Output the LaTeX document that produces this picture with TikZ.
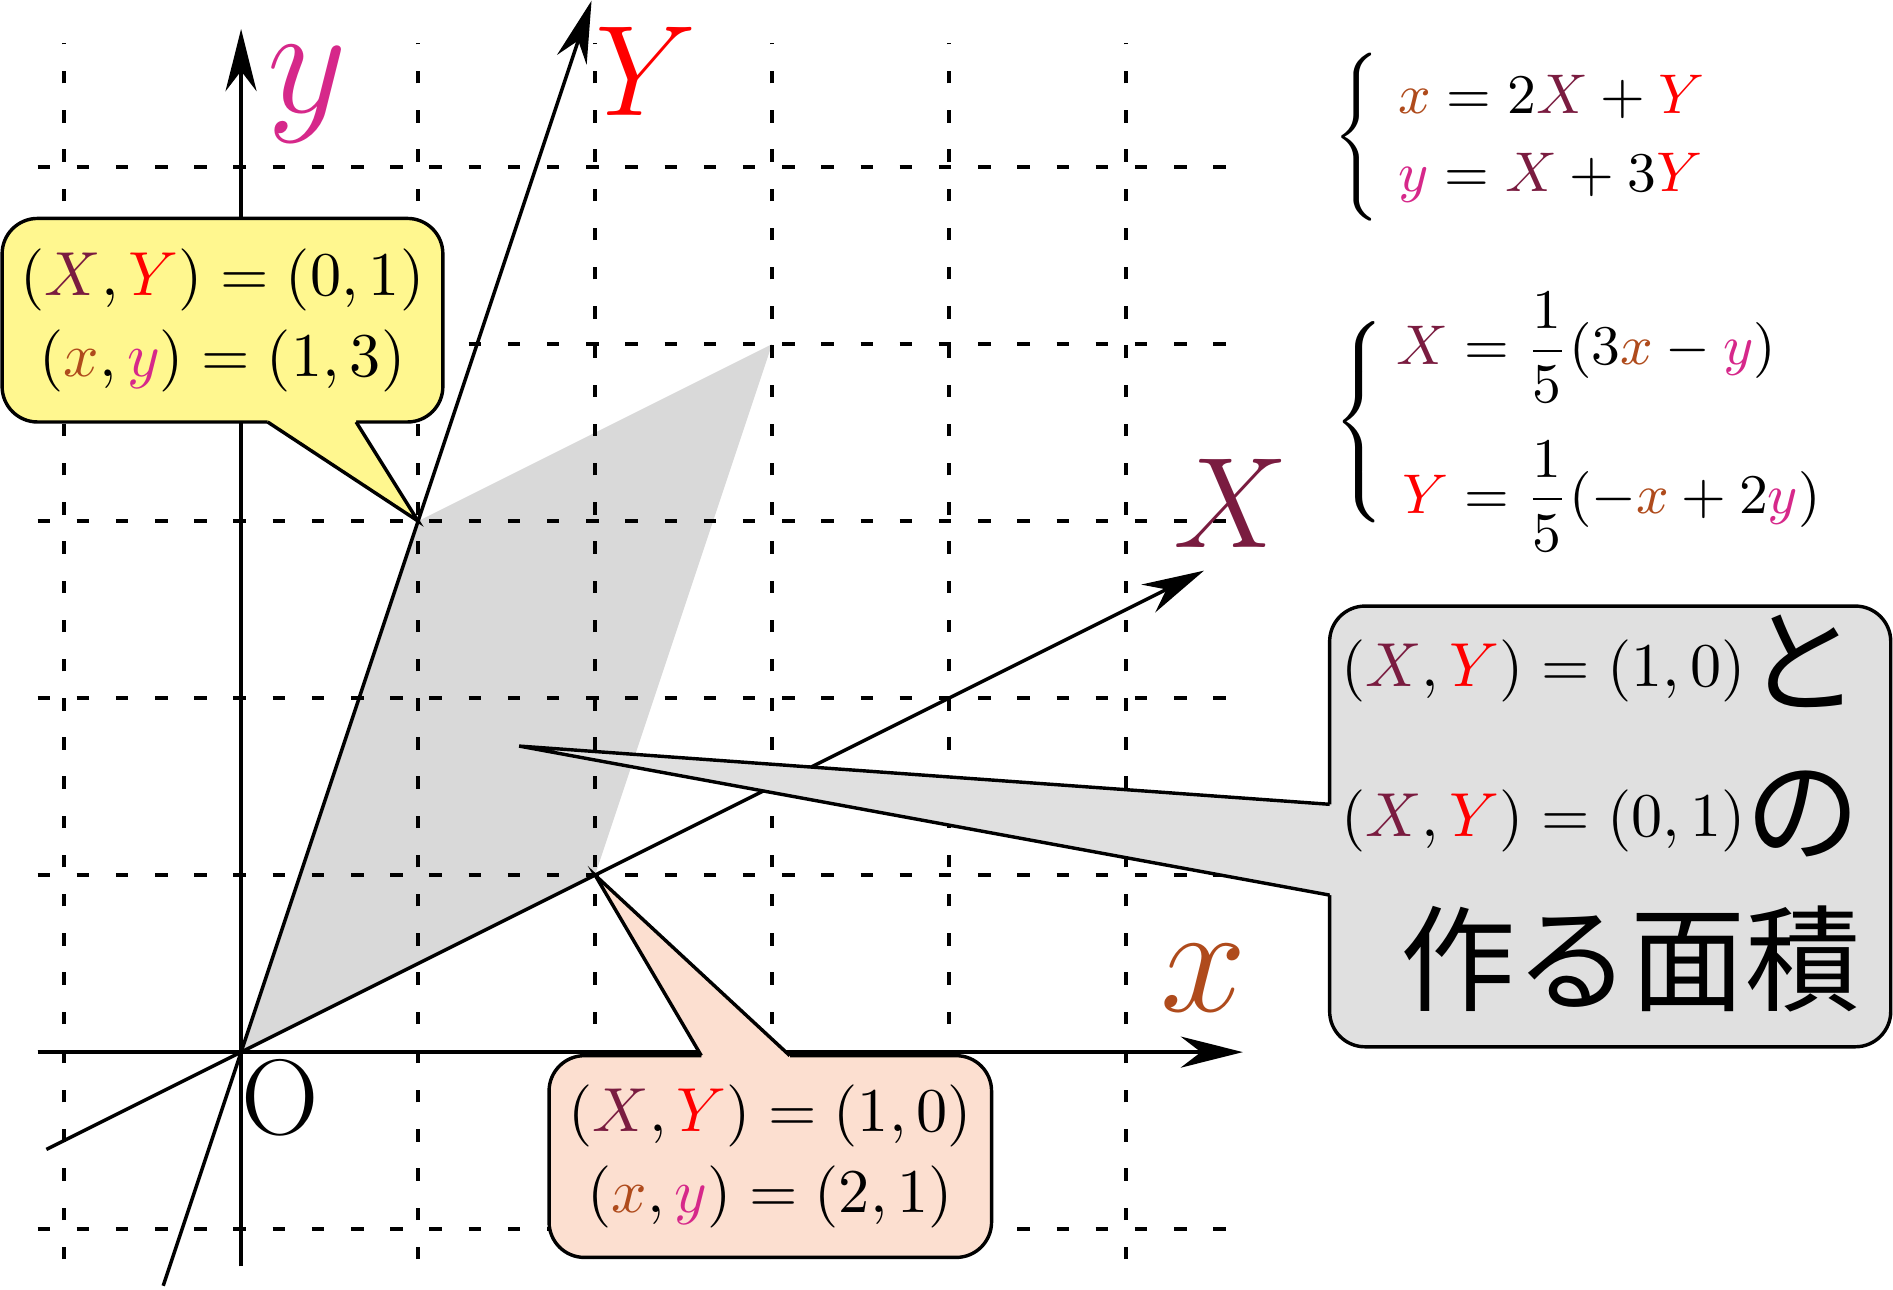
\documentclass[tikz,border=0pt]{standalone}
\usepackage{fontspec}
\usepackage{amsmath}
\usetikzlibrary{arrows.meta}
\newfontfamily\jpfont{Noto Sans CJK JP}
\definecolor{colx}{RGB}{175,75,28}
\definecolor{coly}{RGB}{214,40,138}
\definecolor{colX}{RGB}{122,28,64}
\definecolor{colY}{RGB}{255,0,0}
\definecolor{fillyel}{RGB}{255,247,143}
\definecolor{fillpink}{RGB}{252,223,208}
\definecolor{fillgray}{RGB}{224,224,224}
\definecolor{fillarea}{RGB}{217,217,217}
\newcommand{\vx}{{\color{colx}x}}
\newcommand{\vy}{{\color{coly}y}}
\newcommand{\vX}{{\color{colX}X}}
\newcommand{\vY}{{\color{colY}Y}}
\newcommand{\jp}[1]{\raisebox{-2.8pt}{\jpfont #1}}
\newcommand{\rpad}{\rule{0.135cm}{0pt}}
\begin{document}
\begin{tikzpicture}[line width=0.55pt,
  axis/.style={-{Stealth[length=10pt,width=5pt]}},
  gridline/.style={dash pattern=on 2pt off 4.3pt},
  callout/.style={draw, rounded corners=0.2cm, inner sep=1pt, align=center},
  axlabel/.style={inner sep=0},
  eqn/.style={anchor=west, inner sep=0, font=\fontsize{8.6}{12.4}\selectfont}]
\useasboundingbox (-1.362,-1.339) rectangle (9.333,5.944);
\coordinate (o) at (0,0);
\coordinate (p21) at (2,1);
\coordinate (p34) at (3,4);
\coordinate (p13) at (1,3);
\fill[fillarea](o) -- (p21) -- (p34) -- (p13) -- cycle;
\draw[gridline] (-1.15,-1.17) grid (5.7,5.7);
\coordinate (xa0) at (-1.15,0);
\coordinate (xa1) at (5.66,0);
\coordinate (ya0) at (0,-1.21);
\coordinate (ya1) at (0,5.78);
\coordinate (Xa0) at (-1.1,-0.55);
\coordinate (Xa1) at (5.44,2.72);
\coordinate (Ya0) at (-0.44,-1.32);
\coordinate (Ya1) at (1.98,5.94);
\draw[axis](xa0) -- (xa1);
\draw[axis](ya0) -- (ya1);
\draw[axis](Xa0) -- (Xa1);
\draw[axis](Ya0) -- (Ya1);
\node[axlabel, text=colx, font=\Huge] (lx) at (5.44,0.42){$x$};
\node[axlabel, text=coly, font=\Huge] (ly) at (0.375,5.41){$y$};
\node[axlabel, text=colX, font=\huge] (lX) at (5.59,3.10){$X$};
\node[axlabel, text=colY, font=\huge] (lY) at (2.29,5.54){$Y$};
\node[axlabel, font=\LARGE] (lO) at (0.22,-0.26){O};
\node[callout, fill=fillyel, minimum width=2.49cm, minimum height=1.15cm] (cb1) at (-0.105,4.135){$(\vX,\vY)=(0,1)$\\[1pt]$(\vx,\vy)=(1,3)$};
\coordinate (cb1a) at (0.15,3.56);
\coordinate (cb1b) at (0.65,3.56);
\fill[fillyel](cb1a) -- ++(0,0.04) -- ([yshift=0.04cm]cb1b) -- (cb1b) -- (p13) -- cycle;
\draw[](cb1a) -- (p13) -- (cb1b);
\node[callout, fill=fillpink, minimum width=2.5cm, minimum height=1.14cm] (cb2) at (2.99,-0.59){$(\vX,\vY)=(1,0)$\\[1pt]$(\vx,\vy)=(2,1)$};
\coordinate (cb2a) at (2.6,-0.02);
\coordinate (cb2b) at (3.1,-0.02);
\fill[fillpink](cb2a) -- ++(0,-0.04) -- ([yshift=-0.04cm]cb2b) -- (cb2b) -- (p21) -- cycle;
\draw[](cb2a) -- (p21) -- (cb2b);
\coordinate (pa) at (1.571,1.729);
\node[callout, fill=fillgray, align=right, text width=3.1cm, inner xsep=0pt, minimum width=3.17cm, minimum height=2.49cm, font=\fontsize{18.5}{24}\selectfont] (cb3) at (7.735,1.275){{\normalsize$(\vX,\vY)=(1,0)$}\smash{\jp{と}}\rpad\\{\normalsize$(\vX,\vY)=(0,1)$}\smash{\jp{の}}\rpad\\\jp{作る面積}\rpad};
\coordinate (cb3a) at (6.15,1.40);
\coordinate (cb3b) at (6.15,0.887);
\fill[fillgray](cb3a) -- ++(0.04,0) -- ([xshift=0.04cm]cb3b) -- (cb3b) -- (pa) -- cycle;
\draw[](cb3a) -- (pa) -- (cb3b);
\node[eqn] (eq1) at (6.16,5.17){$\left\{\begin{array}{@{\hspace{3pt}}l@{}}\vx=2\vX+\vY\\\vy=\vX+3\vY\end{array}\right.$};
\node[eqn] (eq2) at (6.16,3.56){$\delimiterfactor=700 \delimitershortfall=10pt \left\{\begin{array}{@{\hspace{2pt}}r@{}l@{}}\vX&{}=\dfrac{1}{5}(3\vx-\vy)\\[8.5pt]\vY&{}=\dfrac{1}{5}(-\vx+2\vy)\end{array}\right.$};
\end{tikzpicture}
\end{document}
